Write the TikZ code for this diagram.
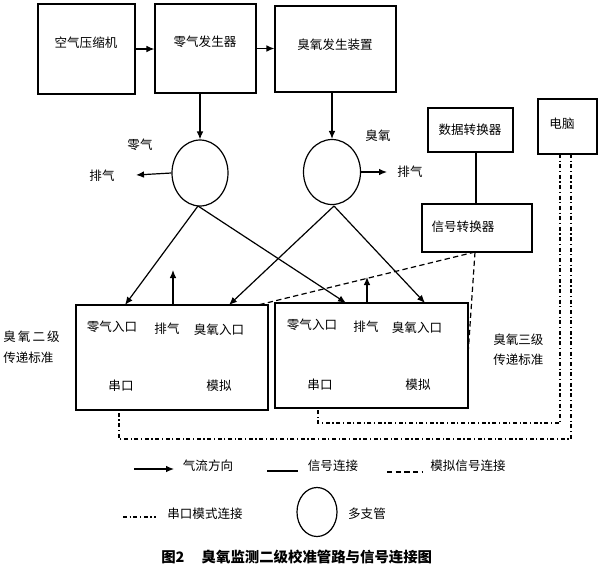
\documentclass[tikz,border=0pt]{standalone}
\usepackage{fontspec}
\setmainfont{Noto Sans CJK SC}
\usetikzlibrary{arrows.meta,shapes.geometric}
\begin{document}
\begin{tikzpicture}[x=0.75pt,y=-0.75pt,
  every node/.style={font=\fontsize{9.4}{11}\selectfont},
  box/.style={draw, line width=0.9pt, inner sep=0pt},
  lbl/.style={inner sep=0pt},
  manifold/.style={draw, ellipse, line width=0.9pt, inner sep=0pt},
  flow/.style={line width=0.9pt, -{Latex[length=6pt,width=5pt]}},
  sig/.style={line width=0.9pt},
  ana/.style={line width=0.9pt, dash pattern=on 4pt off 2.5pt},
  ser/.style={line width=0.9pt, dash pattern=on 3pt off 2pt on 0.8pt off 2pt}]
\useasboundingbox (0,0) rectangle (600,569);

% top boxes
\node[box, minimum width=72.75pt, minimum height=67.5pt] (ac) at (86.5,49) {};
\node[lbl] (acT) at (86,43) {空气压缩机};
\node[box, minimum width=75.75pt, minimum height=66.75pt] (zg) at (205.5,48.5) {};
\node[lbl] (zgT) at (205,42) {零气发生器};
\node[box, minimum width=90.75pt, minimum height=64.5pt] (oz) at (335.5,49) {};
\node[lbl] (ozT) at (335,45) {臭氧发生装置};

% right boxes
\node[box, minimum width=63.75pt, minimum height=33pt] (dc) at (470.5,130) {};
\node[lbl] (dcT) at (470,130) {数据转换器};
\node[box, minimum width=44.25pt, minimum height=41.25pt] (pc) at (567.5,126.5) {};
\node[lbl] (pcT) at (562,124) {电脑};
\node[box, minimum width=82.5pt, minimum height=36pt] (sc) at (477,228) {};
\node[lbl] (scT) at (463,227) {信号转换器};

% manifolds
\node[manifold, minimum width=42pt, minimum height=49.5pt] (m1) at (200,173) {};
\node[manifold, minimum width=42.75pt, minimum height=48.75pt] (m2) at (332,172) {};

% standards
\node[box, minimum width=144pt, minimum height=78.75pt] (s2) at (172,357.5) {};
\node[box, minimum width=144.75pt, minimum height=78.75pt] (s3) at (371.5,355.5) {};

% labels around manifolds
\node[lbl] (zeroL) at (140,145) {零气};
\node[lbl] (ex1) at (102,176) {排气};
\node[lbl] (ozL) at (378,136) {臭氧};
\node[lbl] (ex2) at (410,172) {排气};

% texts in standards
\node[lbl] (s2a) at (112,327) {零气入口};
\node[lbl] (s2b) at (167,329) {排气};
\node[lbl] (s2c) at (219,330) {臭氧入口};
\node[lbl] (s2d) at (121,386) {串口};
\node[lbl] (s2e) at (219,386) {模拟};
\node[lbl] (s3a) at (312,325) {零气入口};
\node[lbl] (s3b) at (366,327) {排气};
\node[lbl] (s3c) at (417,328) {臭氧入口};
\node[lbl] (s3d) at (320,385) {串口};
\node[lbl] (s3e) at (418,385) {模拟};

\node[lbl, anchor=west] (l2a) at (3,337) {臭\,氧\,二\,级};
\node[lbl, anchor=west] (l2b) at (3,358) {传递标准};
\node[lbl, anchor=west] (l3a) at (493,340) {臭氧三级};
\node[lbl, anchor=west] (l3b) at (493,360) {传递标准};

% coordinates
\coordinate (ex1a) at (136,175);
\coordinate (ex2a) at (387,172);
\coordinate (m1b) at (198,206);
\coordinate (m2b) at (334,206);
\coordinate (s2z) at (125,305);
\coordinate (s2o) at (229,305);
\coordinate (s3z) at (346,303);
\coordinate (s3o) at (425,303);
\coordinate (s2x0) at (173,305);
\coordinate (s2x1) at (173,270);
\coordinate (s3x0) at (367,303);
\coordinate (s3x1) at (367,277);
\coordinate (dcb) at (476,152);
\coordinate (sct) at (476,204);
\coordinate (scb) at (475,252);
\coordinate (s2an) at (258,305);
\coordinate (s3an) at (468,355);
\coordinate (pc1) at (560,154);
\coordinate (pc2) at (571,154);
\coordinate (s3ser) at (318,408);
\coordinate (s2ser) at (119,410);

% gas flow
\draw[flow] (ac.east) -- (ac.east -| zg.west);
\draw[flow] (zg.east) -- (zg.east -| oz.west);
\draw[flow] (m1.north |- zg.south) -- (m1.north);
\draw[flow] (m2.north |- oz.south) -- (m2.north);
\draw[flow] (m1.west) -- (ex1a);
\draw[flow] (m2.east) -- (ex2a);
\draw[flow] (m1b) -- (s2z);
\draw[flow] (m1b) -- (s3z);
\draw[flow] (m2b) -- (s2o);
\draw[flow] (m2b) -- (s3o);
\draw[flow] (s2x0) -- (s2x1);
\draw[flow] (s3x0) -- (s3x1);

% signals
\draw[sig] (dcb) -- (sct);
\draw[ana] (scb) -- (s2an);
\draw[ana] (scb) -- (s3an);
\draw[ser] (pc1) -- (560,423) -- (318,423) -- (s3ser);
\draw[ser] (pc2) -- (571,439) -- (119,439) -- (s2ser);

% legend
\coordinate (lg1a) at (134,469); \coordinate (lg1b) at (174,469);
\draw[flow] (lg1a) -- (lg1b);
\node[lbl] (lg1t) at (208,466) {气流方向};
\coordinate (lg2a) at (267,471); \coordinate (lg2b) at (298,471);
\draw[sig] (lg2a) -- (lg2b);
\node[lbl] (lg2t) at (333,466) {信号连接};
\coordinate (lg3a) at (387,472); \coordinate (lg3b) at (422,472);
\draw[ana] (lg3a) -- (lg3b);
\node[lbl] (lg3t) at (468,466) {模拟信号连接};
\coordinate (lg4a) at (123,517); \coordinate (lg4b) at (156,517);
\draw[ser] (lg4a) -- (lg4b);
\node[lbl] (lg4t) at (205,514) {串口模式连接};
\node[manifold, minimum width=30pt, minimum height=36.75pt] (lg5) at (317,512) {};
\node[lbl] (lg5t) at (367,514) {多支管};

\node[lbl, font=\fontsize{10.8}{13}\selectfont\bfseries, anchor=west] (cap) at (161,557) {图2\hspace{1.2em}臭氧监测二级校准管路与信号连接图};
\end{tikzpicture}
\end{document}
